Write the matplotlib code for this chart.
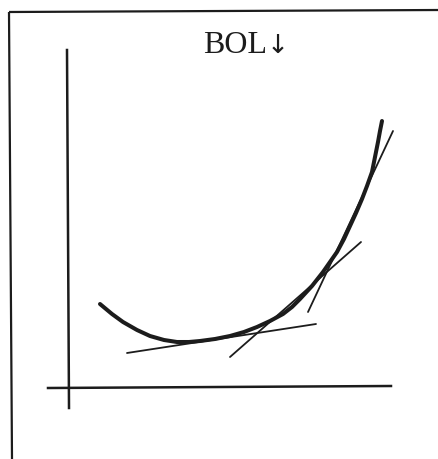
import matplotlib
matplotlib.use("Agg")
import matplotlib.pyplot as plt

# curve, origin at the axis crossing
curve_x = [33, 45, 56, 70, 83, 97, 110, 122, 133, 148, 163, 177, 190, 203, 216, 225,
           233, 245, 256, 263, 270, 277, 283, 289, 295, 300, 305, 308, 311, 313, 315]
curve_y = [83, 73, 65, 57, 51, 47, 45, 45, 46, 48, 51, 55, 60, 66, 73, 80,
           88, 101, 115, 125, 135, 148, 161, 174, 188, 201, 215, 230, 245, 256, 266]

# tangent segments (x0, y0, x1, y1)
tangents = [
    (60, 34, 249, 63),
    (163, 30, 294, 145),
    (241, 75, 326, 256),
]

title = "BOL"
arrow = "\u2193"
ink = "#1c1c1c"

fig = plt.figure(figsize=(4.39, 4.60), dpi=100)
ax = fig.add_axes([0, 0, 1, 1])
ax.set_xlim(-67, 372)
ax.set_ylim(-72, 388)
ax.axis("off")

# outer frame (only top and left are in the scan)
ax.plot([-58, 372], [375, 377], color=ink, lw=1.6, solid_capstyle="butt")
ax.plot([-58, -55], [375, -72], color=ink, lw=1.6, solid_capstyle="butt")

# axes
ax.plot([0, 2], [337, -21], color=ink, lw=1.8)
ax.plot([-19, 324], [-1, 1], color=ink, lw=1.8)

ax.plot(curve_x, curve_y, color=ink, lw=2.9, solid_capstyle="round",
        solid_joinstyle="round")
for x0, y0, x1, y1 in tangents:
    ax.plot([x0, x1], [y0, y1], color=ink, lw=1.3, solid_capstyle="round")

ax.text(200, 335, title, ha="right", va="baseline", fontsize=23, color=ink,
        family="Liberation Serif", weight="medium")
ax.text(200, 335, arrow, ha="left", va="baseline", fontsize=19, color=ink,
        family="DejaVu Sans")

fig.savefig("out.png", dpi=100)
